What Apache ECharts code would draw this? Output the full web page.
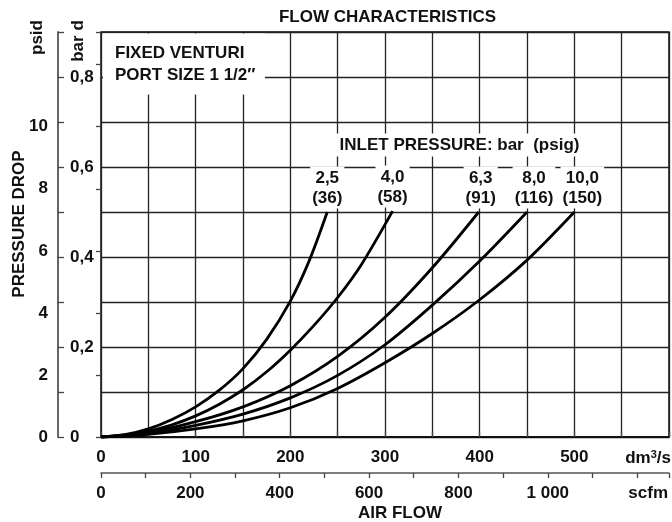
<!DOCTYPE html>
<html><head><meta charset="utf-8">
<script src="https://cdn.jsdelivr.net/npm/echarts@6/dist/echarts.min.js"></script>
<style>html,body{margin:0;padding:0;background:#fff}#c{width:672px;height:522px}</style>
</head><body><div id="c"></div>
<script>
// ---- data ----
const flowTickLabels = [0, 100, 200, 300, 400, 500];          // dm3/s
const scfmTickLabels = [0, 200, 400, 600, 800, 1000];          // scfm
const barTickLabels = [0, 0.2, 0.4, 0.6, 0.8];                  // bar d
const psidTickLabels = [0, 2, 4, 6, 8, 10];                     // psid
const inletBar = ['2,5', '4,0', '6,3', '8,0', '10,0'];
const inletPsig = ['(36)', '(58)', '(91)', '(116)', '(150)'];

const flow25 = [0, 25, 50, 75, 100, 125, 150, 175, 200, 220, 239];
const drop25 = [0, 0.005, 0.018, 0.039, 0.067, 0.104, 0.152, 0.217, 0.302, 0.392, 0.50];
const flow40 = [0, 25, 50, 75, 100, 125, 150, 175, 200, 225, 250, 275, 308];
const drop40 = [0, 0.004, 0.013, 0.027, 0.047, 0.073, 0.105, 0.145, 0.193, 0.248, 0.310, 0.383, 0.502];
const flow63 = [0, 50, 100, 150, 200, 250, 300, 350, 399];
const drop63 = [0, 0.010, 0.034, 0.067, 0.114, 0.179, 0.266, 0.376, 0.50];
const flow80 = [0, 50, 100, 150, 200, 250, 300, 350, 400, 450];
const drop80 = [0, 0.008, 0.026, 0.051, 0.087, 0.137, 0.205, 0.293, 0.391, 0.50];
const flow100 = [0, 50, 100, 150, 200, 250, 300, 350, 400, 450, 500];
const drop100 = [0, 0.006, 0.018, 0.036, 0.065, 0.108, 0.165, 0.230, 0.305, 0.393, 0.50];

const flows = [flow25, flow40, flow63, flow80, flow100];
const drops = [drop25, drop40, drop63, drop80, drop100];

const FLOW_MAX = 600, BAR_MAX = 0.9;
const PSI_PER_BAR = 1 / 0.0689476;
const SCFM_PER_DM3S = 2.11888;

// ---- styles ----
const FONT = '"Liberation Sans", Arial, Helvetica, sans-serif';
const FS = 17;
const labelOffsets = [0, 0, 2, 7, 8];
const txt = (extra) => Object.assign({fontFamily: FONT, fontSize: FS, fontWeight: 'bold', color: '#111'}, extra);
const near = (arr, v) => arr.some(t => Math.abs(t - v) < 1e-6);
const gridLine = {show: true, lineStyle: {color: '#222', width: 1.3}};

const series = flows.map((fx, i) => {
  const dy = drops[i];
  const n = fx.length - 1;
  return {
    type: 'line', xAxisIndex: 0, yAxisIndex: 0,
    data: fx.map((x, k) => [x, dy[k]]),
    smooth: 0.3, showSymbol: false, symbol: 'none',
    lineStyle: {color: '#000', width: 2.8},
    silent: true, animation: false, z: 5,
    markPoint: {
      symbol: 'circle', symbolSize: 1,
      itemStyle: {color: 'rgba(0,0,0,0)'},
      label: txt({show: true, position: 'top', distance: 3,
        formatter: inletBar[i] + '\n' + inletPsig[i],
        backgroundColor: '#fff', padding: [2, 2, 0, 2], lineHeight: 20, align: 'center',
        offset: [labelOffsets[i], 0]}),
      data: [{coord: [fx[n], dy[n]]}]
    }
  };
});

const chart = echarts.init(document.getElementById('c'), null, {renderer: 'canvas'});
chart.setOption({
  animation: false,
  backgroundColor: '#fff',
  grid: {left: 101, top: 32, right: 1, bottom: 85, show: true, borderColor: '#111', borderWidth: 1.5},
  xAxis: [
    {type: 'value', min: 0, max: FLOW_MAX, interval: 50, position: 'bottom',
     axisLine: {show: true, onZero: false, lineStyle: {color: '#111', width: 2}},
     axisTick: {show: false}, splitLine: gridLine,
     axisLabel: txt({margin: 12, formatter: v => near(flowTickLabels, v) ? String(v) : ''})},
    {type: 'value', min: 0, max: FLOW_MAX * SCFM_PER_DM3S, interval: 100, position: 'bottom', offset: 36,
     axisLine: {show: true, onZero: false, lineStyle: {color: '#555', width: 1.5}},
     axisTick: {show: true, length: 5, lineStyle: {color: '#444', width: 1.3}},
     splitLine: {show: false},
     axisLabel: txt({margin: 12, formatter: v => near(scfmTickLabels, v) ? (v === 1000 ? '1 000' : String(v)) : ''})},
    {type: 'value', min: 0, max: FLOW_MAX, interval: 50, position: 'bottom', offset: 36,
     axisLine: {show: false}, axisTick: {show: true, inside: true, length: 5, lineStyle: {color: '#444', width: 1.3}},
     axisLabel: {show: false}, splitLine: {show: false}}
  ],
  yAxis: [
    {type: 'value', min: 0, max: BAR_MAX, interval: 0.1, position: 'left', offset: 43,
     axisLine: {show: true, onZero: false, lineStyle: {color: '#666', width: 2}},
     axisTick: {show: true, inside: true, length: 6, lineStyle: {color: '#444', width: 1.3}},
     splitLine: gridLine,
     axisLabel: txt({inside: true, margin: 12,
       formatter: v => near(barTickLabels, v) ? (v === 0 ? '0' : v.toFixed(1).replace('.', ',')) : ''})},
    {type: 'value', min: 0, max: BAR_MAX * PSI_PER_BAR, interval: 2, position: 'left', offset: 43,
     axisLine: {show: false},
     axisTick: {show: true, length: 5, lineStyle: {color: '#444', width: 1.3}},
     splitLine: {show: false},
     axisLabel: txt({margin: 10, formatter: v => near(psidTickLabels, v) ? String(v) : ''})}
  ],
  series: series,
  graphic: [
    {type: 'rect', z: 50, shape: {x: 103, y: 33.5, width: 162, height: 61}, style: {fill: '#fff'}},
    {type: 'text', z: 51, x: 115, y: 53, style: txt({text: 'FIXED VENTURI', align: 'left', verticalAlign: 'middle', fill: '#111'})},
    {type: 'text', z: 51, x: 115, y: 75, style: txt({text: 'PORT SIZE 1 1/2\u2033', align: 'left', verticalAlign: 'middle', fill: '#111'})},
    {type: 'text', z: 51, x: 459.5, y: 145, style: txt({text: 'INLET PRESSURE: bar  (psig)', align: 'center', verticalAlign: 'middle', fill: '#111', backgroundColor: '#fff', padding: [3, 4]})},
    {type: 'text', z: 51, x: 387.5, y: 17, style: txt({text: 'FLOW CHARACTERISTICS', align: 'center', verticalAlign: 'middle', fill: '#111'})},
    {type: 'text', z: 51, x: 37, y: 37.5, rotation: Math.PI / 2, style: txt({text: 'psid', align: 'center', verticalAlign: 'middle', fill: '#111'})},
    {type: 'text', z: 51, x: 78, y: 41, rotation: Math.PI / 2, style: txt({text: 'bar d', align: 'center', verticalAlign: 'middle', fill: '#111'})},
    {type: 'text', z: 51, x: 19, y: 224, rotation: Math.PI / 2, style: txt({text: 'PRESSURE DROP', align: 'center', verticalAlign: 'middle', fill: '#111'})},
    {type: 'text', z: 51, x: 671, y: 458, style: {text: '{a|dm}{b|3}{a|/s}', align: 'right', verticalAlign: 'middle',
      rich: {a: txt({fill: '#111', lineHeight: 18}), b: txt({fill: '#111', fontSize: 11, verticalAlign: 'top', lineHeight: 18})}}},
    {type: 'text', z: 51, x: 668, y: 493, style: txt({text: 'scfm', align: 'right', verticalAlign: 'middle', fill: '#111'})},
    {type: 'text', z: 51, x: 400, y: 513, style: txt({text: 'AIR FLOW', align: 'center', verticalAlign: 'middle', fill: '#111'})}
  ]
});
</script>
</body></html>
